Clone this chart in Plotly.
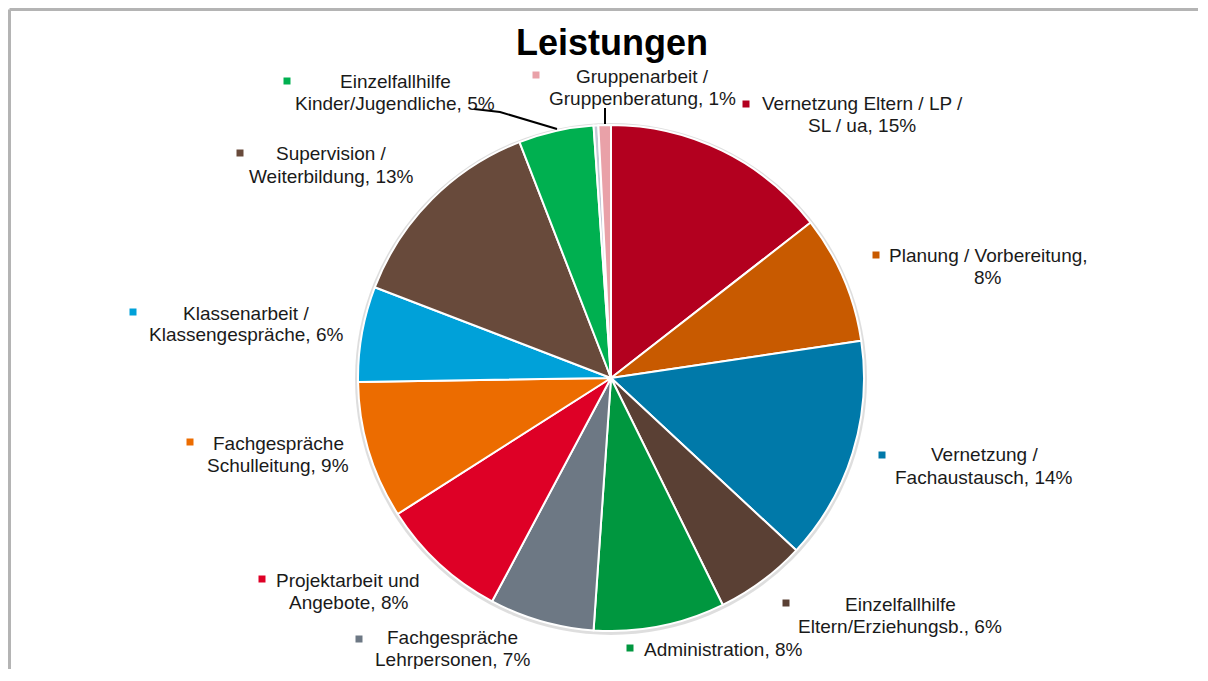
import plotly.graph_objects as go

OFF = 8  # page body margin offset
W, H = 1208 - 2 * OFF - 2, 681 - 2 * OFF - 4  # figure size that fits the window without scrollbars

# ---- data ----
categories = [
    "Vernetzung Eltern / LP / SL / ua",
    "Planung / Vorbereitung",
    "Vernetzung / Fachaustausch",
    "Einzelfallhilfe Eltern/Erziehungsb.",
    "Administration",
    "Fachgespräche Lehrpersonen",
    "Projektarbeit und Angebote",
    "Fachgespräche Schulleitung",
    "Klassenarbeit / Klassengespräche",
    "Supervision / Weiterbildung",
    "Einzelfallhilfe Kinder/Jugendliche",
    "Andere",
    "Gruppenarbeit / Gruppenberatung",
]
values = [14.5, 8.2, 14.3, 5.8, 8.4, 6.7, 8.2, 8.8, 6.1, 13.3, 4.8, 0.3, 0.8]
label_lines = [
    ["Vernetzung Eltern / LP /", "SL / ua, 15%"],
    ["Planung / Vorbereitung,", "8%"],
    ["Vernetzung /", "Fachaustausch, 14%"],
    ["Einzelfallhilfe", "Eltern/Erziehungsb., 6%"],
    ["Administration, 8%"],
    ["Fachgespräche", "Lehrpersonen, 7%"],
    ["Projektarbeit und", "Angebote, 8%"],
    ["Fachgespräche", "Schulleitung, 9%"],
    ["Klassenarbeit /", "Klassengespräche, 6%"],
    ["Supervision /", "Weiterbildung, 13%"],
    ["Einzelfallhilfe", "Kinder/Jugendliche, 5%"],
    [],
    ["Gruppenarbeit /", "Gruppenberatung, 1%"],
]

# ---- styles ----
colors = ["#b3001f", "#c85a00", "#0079a9", "#5a4034", "#00973f", "#6d7884",
          "#de0026", "#ec6c00", "#00a1d9", "#684a3b", "#00b050", "#c4cad6", "#e9a1a8"]
# label first-line centre (page px) and marker position (page px)
label_pos = [(862, 104), (988, 255), (984, 455), (900, 604), (723, 649), (452, 637),
             (348, 580), (278, 443), (246, 313), (331, 154), (395, 82), None, (642, 76)]
marker_pos = [(746, 104), (876, 255), (882, 455), (786, 603), (630, 648), (359, 639),
              (262, 579), (190, 442), (133, 312), (240, 153), (287, 81), None, (536, 75)]
LINE_H = 22

cx, cy, r = 611, 378, 253


def px(x):
    return (x - OFF) / W


def py(y):
    return 1 - (y - OFF) / H


fig = go.Figure()
fig.add_trace(go.Pie(
    labels=categories, values=values, sort=False, direction="clockwise", rotation=0,
    marker=dict(colors=colors, line=dict(color="white", width=2)),
    textinfo="none", hoverinfo="label+percent", showlegend=False,
    domain=dict(x=[px(cx - r), px(cx + r)], y=[py(cy + r), py(cy - r)]),
))

# soft shadow halo behind the pie
fig.add_shape(type="circle", xref="paper", yref="paper", layer="below",
              x0=px(cx - r - 3), x1=px(cx + r + 3), y0=py(cy + r + 4), y1=py(cy - r - 2),
              fillcolor="rgba(0,0,0,0.13)", line=dict(width=0))

font = dict(family="Liberation Sans, Arial, Helvetica, sans-serif", size=19, color="#1a1a1a")
for lines, lp, mp, c in zip(label_lines, label_pos, marker_pos, colors):
    if not lines:
        continue
    for i, t in enumerate(lines):
        fig.add_annotation(x=px(lp[0]), y=py(lp[1] + i * LINE_H), xref="paper", yref="paper",
                           text=t, showarrow=False, xanchor="center", yanchor="middle",
                           font=font)
    fig.add_shape(type="rect", xref="paper", yref="paper",
                  x0=px(mp[0] - 3.5), x1=px(mp[0] + 3.5), y0=py(mp[1] + 3.5), y1=py(mp[1] - 3.5),
                  fillcolor=c, line=dict(width=0))

# leader lines
fig.add_shape(type="path", xref="paper", yref="paper",
              path=f"M {px(474)} {py(109)} L {px(500)} {py(112)} L {px(557)} {py(129)}",
              line=dict(color="black", width=2))
fig.add_shape(type="line", xref="paper", yref="paper",
              x0=px(605), x1=px(605), y0=py(108), y1=py(124), line=dict(color="black", width=2))

# frame (top and left edges only, as in the cropped original)
frame = dict(color="#b4b4b4", width=3)
fig.add_shape(type="line", xref="paper", yref="paper", layer="above",
              x0=px(9.5), x1=1.0, y0=py(9.5), y1=py(9.5), line=frame)
fig.add_shape(type="line", xref="paper", yref="paper", layer="above",
              x0=px(9.5), x1=px(9.5), y0=py(9.5), y1=0.0, line=frame)

fig.add_annotation(x=px(612), y=py(42), xref="paper", yref="paper", text="<b>Leistungen</b>",
                   showarrow=False, xanchor="center", yanchor="middle",
                   font=dict(family="Liberation Sans, Arial, Helvetica, sans-serif", size=36, color="black"))

fig.update_layout(width=W, height=H, margin=dict(l=0, r=0, t=0, b=0),
                  paper_bgcolor="white", plot_bgcolor="white")

fig.write_html("out.html")
